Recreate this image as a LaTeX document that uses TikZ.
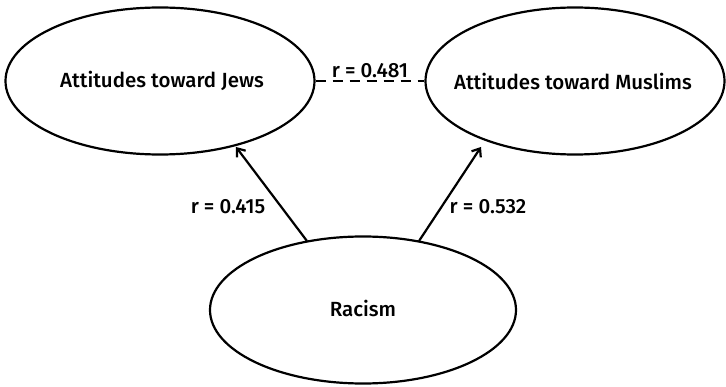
\documentclass[tikz,border=0pt]{standalone}
\usepackage{fontspec}
\setmainfont{Fira Sans}[UprightFont=* Medium]
\usetikzlibrary{shapes.geometric,arrows.meta}
\begin{document}
\begin{tikzpicture}[x=1pt,y=-1pt,
  latent/.style={draw,line width=2.2pt,ellipse,minimum width=#1,minimum height=147pt,inner sep=0pt},
  lbl/.style={font=\fontsize{20.5}{23}\selectfont},
  conn/.style={line width=2.2pt},
  arr/.style={conn,-{Straight Barb[length=7pt,width=11pt,line width=2.2pt]}}]
\useasboundingbox (0,0) rectangle (726,387);
\node[latent=309pt] (jews) at (160,81) {};
\node[lbl] at (162,81) {Attitudes toward Jews};
\node[latent=299pt] (mus) at (575,81) {};
\node[lbl] at (573,81) {Attitudes toward Muslims};
\node[latent=306pt] (rac) at (363,310) {};
\node[lbl] at (363,308) {Racism};
\draw[conn,dash pattern=on 10pt off 7pt] (jews.east) -- node[lbl,above=0pt,yshift=-1pt] {r = 0.481} (mus.west);
\coordinate (ls) at (307,241);
\coordinate (rs) at (419,241);
\draw[arr] (ls) -- (236,147);
\draw[arr] (rs) -- (481,147);
\node[lbl] at (228,207) {r = 0.415};
\node[lbl] at (488,207) {r = 0.532};
\end{tikzpicture}
\end{document}
